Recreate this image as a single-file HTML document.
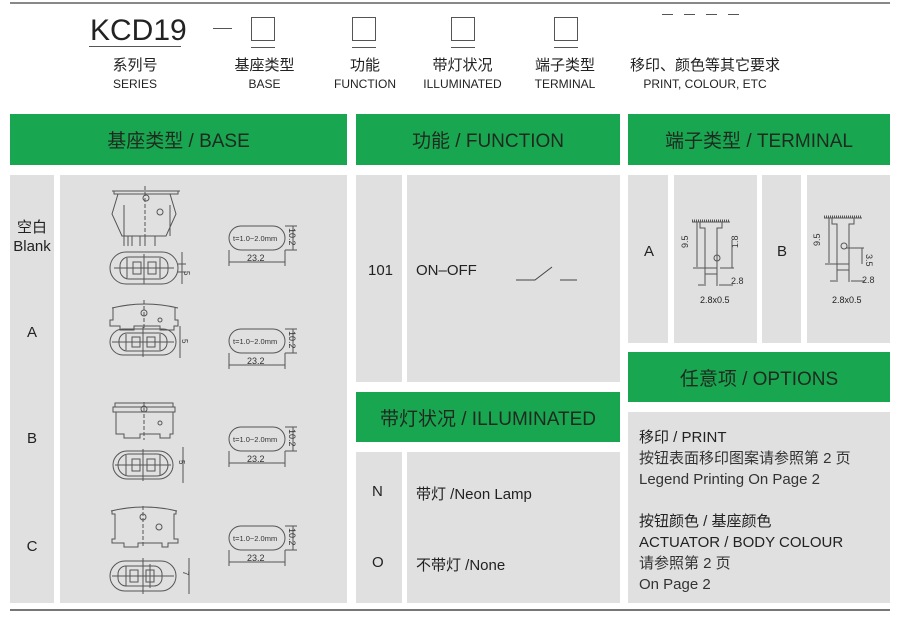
<!DOCTYPE html>
<html><head><meta charset="utf-8"><style>
body{margin:0;width:907px;height:620px;background:#fff;position:relative;font-family:"Liberation Sans","Noto Sans CJK SC",sans-serif;color:#222;overflow:hidden}
.a{position:absolute}
.g{position:absolute;background:#19a651;color:#1f2a1f;font-size:19px;display:flex;align-items:center;justify-content:center}
.p{position:absolute;background:#e0e0e0}
.c{position:absolute;text-align:center;font-size:15px}
.s{font-size:12px}
.bx{position:absolute;width:22px;height:22px;border:1px solid #555}
.ul{position:absolute;height:1px;background:#555}
</style></head><body>
<div class="a" style="left:10px;top:2px;width:880px;height:2px;background:#888"></div>
<div class="a" style="left:10px;top:609px;width:880px;height:2px;background:#777"></div>

<div class="a" style="left:90px;top:14px;font-size:30px;color:#222">KCD19</div>
<div class="ul" style="left:89px;top:46px;width:92px"></div>
<div class="ul" style="left:213px;top:28px;width:19px"></div>
<div class="bx" style="left:251px;top:17px"></div><div class="ul" style="left:251px;top:47px;width:24px"></div>
<div class="bx" style="left:352px;top:17px"></div><div class="ul" style="left:352px;top:47px;width:24px"></div>
<div class="bx" style="left:451px;top:17px"></div><div class="ul" style="left:451px;top:47px;width:24px"></div>
<div class="bx" style="left:554px;top:17px"></div><div class="ul" style="left:554px;top:47px;width:24px"></div>
<div class="ul" style="left:662px;top:14px;width:11px"></div><div class="ul" style="left:684px;top:14px;width:11px"></div><div class="ul" style="left:706px;top:14px;width:11px"></div><div class="ul" style="left:728px;top:14px;width:11px"></div>

<div class="c" style="left:95px;top:54px;width:80px">系列号<br><span class="s">SERIES</span></div>
<div class="c" style="left:222px;top:54px;width:85px">基座类型<br><span class="s">BASE</span></div>
<div class="c" style="left:330px;top:54px;width:70px">功能<br><span class="s">FUNCTION</span></div>
<div class="c" style="left:415px;top:54px;width:95px">带灯状况<br><span class="s">ILLUMINATED</span></div>
<div class="c" style="left:525px;top:54px;width:80px">端子类型<br><span class="s">TERMINAL</span></div>
<div class="c" style="left:615px;top:54px;width:180px">移印、颜色等其它要求<br><span class="s">PRINT, COLOUR, ETC</span></div>

<div class="g" style="left:10px;top:114px;width:337px;height:51px">基座类型 / BASE</div>
<div class="g" style="left:356px;top:114px;width:264px;height:51px">功能 / FUNCTION</div>
<div class="g" style="left:628px;top:114px;width:262px;height:51px">端子类型 / TERMINAL</div>

<div class="p" style="left:10px;top:175px;width:44px;height:428px"></div>
<div class="p" style="left:60px;top:175px;width:287px;height:428px"></div>
<div class="c" style="left:10px;top:218px;width:44px;line-height:19px">空白<br>Blank</div>
<div class="c" style="left:10px;top:324px;width:44px">A</div>
<div class="c" style="left:10px;top:430px;width:44px">B</div>
<div class="c" style="left:10px;top:538px;width:44px">C</div>

<div class="p" style="left:356px;top:175px;width:46px;height:207px"></div>
<div class="p" style="left:407px;top:175px;width:213px;height:207px"></div>
<div class="a" style="left:368px;top:262px;font-size:15px">101</div>
<div class="a" style="left:416px;top:262px;font-size:15px">ON–OFF</div>

<div class="g" style="left:356px;top:392px;width:264px;height:50px">带灯状况 / ILLUMINATED</div>
<div class="p" style="left:356px;top:452px;width:46px;height:151px"></div>
<div class="p" style="left:407px;top:452px;width:213px;height:151px"></div>
<div class="a" style="left:372px;top:483px;font-size:15px">N</div>
<div class="a" style="left:416px;top:483px;font-size:15px">带灯 /Neon Lamp</div>
<div class="a" style="left:372px;top:554px;font-size:15px">O</div>
<div class="a" style="left:416px;top:554px;font-size:15px">不带灯 /None</div>

<div class="p" style="left:628px;top:175px;width:40px;height:168px"></div>
<div class="p" style="left:674px;top:175px;width:83px;height:168px"></div>
<div class="p" style="left:762px;top:175px;width:39px;height:168px"></div>
<div class="p" style="left:807px;top:175px;width:83px;height:168px"></div>
<div class="a" style="left:644px;top:243px;font-size:15px">A</div>
<div class="a" style="left:777px;top:243px;font-size:15px">B</div>
<div class="a" style="left:700px;top:295px;font-size:9px">2.8x0.5</div>
<div class="a" style="left:832px;top:295px;font-size:9px">2.8x0.5</div>

<div class="g" style="left:628px;top:352px;width:262px;height:50px">任意项 / OPTIONS</div>
<div class="p" style="left:628px;top:412px;width:262px;height:191px"></div>
<div class="a" style="left:639px;top:427px;font-size:15px;line-height:21px;color:#333">
<span style="color:#222">移印 / PRINT</span><br>按钮表面移印图案请参照第 2 页<br>Legend Printing On Page 2<br><div style="height:21px"></div>
<span style="color:#222">按钮颜色 / 基座颜色<br>ACTUATOR / BODY COLOUR</span><br>请参照第 2 页<br>On Page 2</div>

<svg class="a" style="left:0;top:0" width="907" height="620" fill="none" stroke="#555" stroke-width="1" font-family="Liberation Sans, sans-serif">
<path d="M112 191h68M114 191v3h64v-3M118 194l-6 20 10 22h44l10-22-6-20M124 205v31M170 205v31M124 236v10M128 236v10M132 236v10M140 236v10M145 236v10M155 236v10"/>
<line x1="145" y1="186" x2="145" y2="240" stroke-dasharray="4,2"/><circle cx="146" cy="198" r="3"/><circle cx="160" cy="212" r="3"/>
<path d="M112 308q33-8 66 0M113 308v12h-3v6h10v4h14v-4h26v4h14v-4h4v-6h-3v-12"/>
<line x1="144" y1="300" x2="144" y2="330" stroke-dasharray="4,2"/><circle cx="144" cy="313" r="3"/><circle cx="160" cy="320" r="2"/>
<path d="M115 407v-4h58v4M113 407h62v5h-62zM116 412v22h8v4h16v-4h20v4h10v-4h3v-22"/>
<line x1="144" y1="402" x2="144" y2="440" stroke-dasharray="4,2"/><circle cx="144" cy="409" r="3"/><circle cx="160" cy="423" r="2"/>
<path d="M111 511q33-8 66 0M112 511v3h3v25h-3v4h12v4h14v-4h24v4h6v-4h10v-4h-4v-25h2v-3"/>
<line x1="143" y1="506" x2="143" y2="548" stroke-dasharray="4,2"/><circle cx="143" cy="517" r="3"/><circle cx="159" cy="527" r="3"/>
<rect x="110" y="252" width="68" height="32" rx="16"/><rect x="120" y="257" width="48" height="22" rx="9"/><path d="M127 258v20M160 258v20M144 254v30M114 268h60M133 262h8v12h-8zM148 262h8v12h-8z"/>
<path d="M182 252v32M178 264h8M178 272h8"/><text x="184" y="271" font-size="8" fill="#333" stroke="none" transform="rotate(90 184 271)">5</text>
<rect x="110" y="329" width="66" height="26" rx="13"/><rect x="119" y="333" width="48" height="18" rx="8"/><path d="M126 334v16M160 334v16M143 327v30M112 342h62M132 337h8v10h-8zM147 337h8v10h-8z"/>
<path d="M180 326v32"/><text x="182" y="339" font-size="8" fill="#333" stroke="none" transform="rotate(90 182 339)">5</text>
<rect x="113" y="451" width="60" height="28" rx="14"/><rect x="118" y="454" width="50" height="22" rx="11"/><path d="M126 455v20M160 455v20M143 449v32M115 465h56M132 459h8v12h-8zM147 459h8v12h-8z"/>
<path d="M183 447v36"/><text x="179" y="460" font-size="8" fill="#333" stroke="none" transform="rotate(90 179 460)">5</text>
<rect x="110" y="561" width="66" height="30" rx="15"/><rect x="118" y="566" width="44" height="20" rx="8"/><path d="M126 566v20M150 564v24M143 558v36M112 576h62M130 570h8v12h-8zM146 570h8v12h-8z"/>
<path d="M189 558v36"/><text x="183" y="571" font-size="8" fill="#333" stroke="none" transform="rotate(90 183 571)">7</text>
<g id="d1"><rect x="229" y="226" width="56" height="24" rx="12"/><path d="M229 250v16M285 250v16M229 262h56M285 226h12M285 250h12M293 226v24"/><text x="233" y="241" font-size="7.5" fill="#333" stroke="none">t=1.0~2.0mm</text><text x="247" y="261" font-size="9" fill="#333" stroke="none">23.2</text><text x="289" y="228" font-size="9" fill="#333" stroke="none" transform="rotate(90 289 228)">10.2</text></g>
<use href="#d1" y="103"/><use href="#d1" y="201"/><use href="#d1" y="300"/>
<path d="M516 280h19l17-13M560 280h17" stroke="#444"/>
<path d="M692 222h38M700 222v6h5v40h12v-40h5v-6"/><path d="M692 221h38" stroke-width="3" stroke-dasharray="1,1"/><path d="M705 268h12v6h-12zM705 274v12M717 274v12M697 222v45M693 268h12M698 285h6M719 285h14"/><circle cx="717" cy="258" r="3"/>
<text x="688" y="248" font-size="9" fill="#333" stroke="none" transform="rotate(-90 688 248)">9.5</text>
<text x="738" y="248" font-size="9" fill="#333" stroke="none" transform="rotate(-90 738 248)">1.8</text>
<path d="M732 240v28M720 268h14"/>
<text x="731" y="284" font-size="9" fill="#333" stroke="none">2.8</text>
<g transform="translate(132,-4)"><path d="M692 222h38M700 222v6h5v40h12v-40h5v-6"/><path d="M692 221h38" stroke-width="3" stroke-dasharray="1,1"/><path d="M705 268h12v6h-12zM705 274v12M717 274v12M697 222v45M693 268h12M698 285h6M719 285h14"/><circle cx="712" cy="250" r="3"/><path d="M730 252v16M714 252h18"/></g>
<text x="820" y="246" font-size="9" fill="#333" stroke="none" transform="rotate(-90 820 246)">9.5</text>
<text x="866" y="254" font-size="9" fill="#333" stroke="none" transform="rotate(90 866 254)">3.5</text>
<text x="862" y="283" font-size="9" fill="#333" stroke="none">2.8</text>
</svg>
</body></html>
